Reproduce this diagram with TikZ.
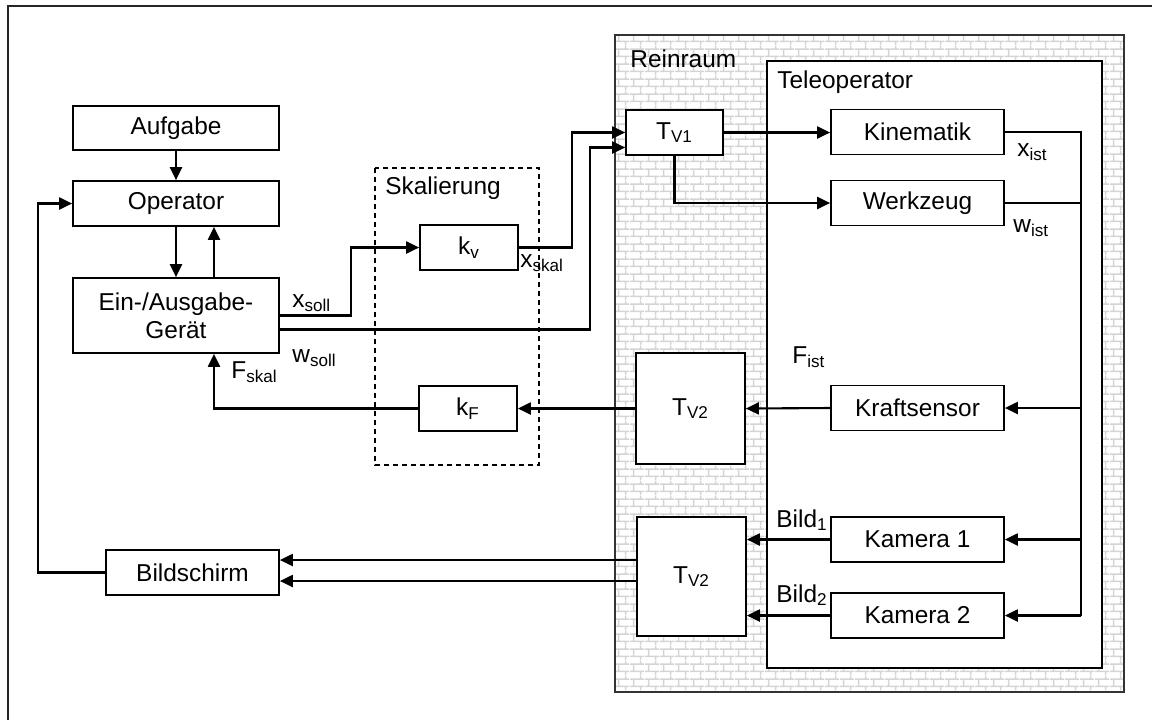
\documentclass[tikz,border=0pt]{standalone}
\usepackage{fontspec}
\setmainfont{Liberation Sans}
\usetikzlibrary{arrows.meta,patterns,positioning}
\pgfdeclarepatternformonly{brickwall}{\pgfpointorigin}{\pgfpoint{7.5pt}{7.6pt}}{\pgfpoint{7.5pt}{7.6pt}}{
  \pgfsetlinewidth{0.8pt}
  \pgfpathmoveto{\pgfpoint{0pt}{1.9pt}}\pgfpathlineto{\pgfpoint{7.5pt}{1.9pt}}
  \pgfpathmoveto{\pgfpoint{0pt}{5.7pt}}\pgfpathlineto{\pgfpoint{7.5pt}{5.7pt}}
  \pgfpathmoveto{\pgfpoint{1.875pt}{1.9pt}}\pgfpathlineto{\pgfpoint{1.875pt}{5.7pt}}
  \pgfpathmoveto{\pgfpoint{5.625pt}{5.7pt}}\pgfpathlineto{\pgfpoint{5.625pt}{7.6pt}}
  \pgfpathmoveto{\pgfpoint{5.625pt}{0pt}}\pgfpathlineto{\pgfpoint{5.625pt}{1.9pt}}
  \pgfusepath{stroke}
}
\tikzset {
  >={Triangle[length=6.5pt,width=6pt]},
  every node/.style={font=\fontsize{12.2}{14}\selectfont},
  blockbox/.style={draw,line width=0.85pt,fill=white,inner sep=0pt,
    minimum height=22.5pt,align=center},
  sig/.style={line width=1.05pt},
  txt/.style={inner sep=0pt},
}

\begin{document}
\begin{tikzpicture}[x=0.5pt,y=-0.5pt]
          \useasboundingbox (0,0) rectangle (1152,720);
          \draw[line width=1pt,black!85] (8,720) -- (8,6) -- (1152,6);
          % Reinraum, Teleoperator, Skalierung
          \draw[line width=0.8pt,draw=black!80,pattern=brickwall,pattern color=black!17]
            (615,35) rectangle (1124,692);
          \draw[line width=0.85pt,fill=white] (767,61) rectangle (1102,668);
          \draw[line width=0.6pt,dash pattern=on 2.5pt off 2pt] (375,168) rectangle (539,465);
          \node[txt,anchor=base west] (reinraum) at (630,67) {Reinraum};
          \node[txt,anchor=base west] (teleoperator) at (777,88) {Teleoperator};
          \node[txt,anchor=base west] (skalierung) at (385,194) {Skalierung};
          % blocks
          \node[blockbox,minimum width=103pt,minimum height=22pt] (aufgabe) at (176,128) {Aufgabe};
          \node[blockbox,minimum width=103pt] (operator) at (176,203.5) {Operator};
          \node[blockbox,minimum width=103pt,minimum height=37.5pt] (geraet) at (176,315.5) {Ein-/Ausgabe-\\Gerät};
          \node[blockbox,minimum width=86.5pt] (bildschirm) at (192.5,572.5) {Bildschirm};
          \node[blockbox,minimum width=49pt] (kv) at (469,247.5) {k\textsubscript{v}};
          \node[blockbox,minimum width=49pt] (kf) at (468,408.5) {k\textsubscript{F}};
          \node[blockbox,minimum width=48.5pt] (tvone) at (674.5,132.5) {T\textsubscript{V1}};
          \node[blockbox,minimum width=54.5pt,minimum height=55.5pt] (tvtwoa) at (690.5,408.5) {T\textsubscript{V2}};
          \node[blockbox,minimum width=54.5pt,minimum height=59.5pt] (tvtwob) at (691.5,576.5) {T\textsubscript{V2}};
          \node[blockbox,minimum width=86.5pt] (kinematik) at (917.5,132) {Kinematik};
          \node[blockbox,minimum width=86.5pt] (werkzeug) at (917.5,203) {Werkzeug};
          \node[blockbox,minimum width=86.5pt] (kraftsensor) at (917.5,408) {Kraftsensor};
          \node[blockbox,minimum width=86.5pt] (kameraone) at (917.5,539.5) {Kamera 1};
          \node[blockbox,minimum width=86.5pt] (kameratwo) at (917.5,615.5) {Kamera 2};
          \coordinate (bus) at (1081,615.5);
          % signals
          \draw[sig,->] (aufgabe) -- (operator);
          \draw[sig,->] (operator) -- (geraet);
          \draw[sig,->] ([xshift=19pt]geraet.north) -- ([xshift=19pt]operator.south);
          \draw[sig,->] (geraet.east) -- ++(71,0) |- (kv.west);
          \draw[sig,->] ([yshift=-7pt]geraet.east) -- ++(310,0) |- ([yshift=-7.5pt]tvone.west);
          \draw[sig,->] (kv.east) -- ++(53,0) |- (tvone.west);
          \draw[sig,->] (tvone.east) -- (tvone.east -| kinematik.west);
          \draw[sig,->] (tvone.south) |- (werkzeug.west);
          \draw[sig] (kinematik.east) -| (bus);
          \draw[sig] (werkzeug.east) -- (werkzeug.east -| bus);
          \draw[sig,->] (kraftsensor.east -| bus) -- (kraftsensor.east);
          \draw[sig,->] (kameraone.east -| bus) -- (kameraone.east);
          \draw[sig,->] (bus) -- (kameratwo.east);
          \draw[sig,->] (kraftsensor.west) -- (tvtwoa.east);
          \draw[sig,->] (tvtwoa.west) -- (tvtwoa.west -| kf.east);
          \draw[sig,->] (kf.west) -| ([xshift=19pt]geraet.south);
          \draw[sig,->] (kameraone.west) -- (kameraone.west -| tvtwob.east);
          \draw[sig,->] (kameratwo.west) -- (kameratwo.west -| tvtwob.east);
          \draw[sig,->] ([yshift=8.25pt]tvtwob.west) -- ([yshift=8.25pt]tvtwob.west -| bildschirm.east);
          \draw[sig,->] ([yshift=-2.25pt]tvtwob.west) -- ([yshift=-2.25pt]tvtwob.west -| bildschirm.east);
          \draw[sig,->] (bildschirm.west) -- ++(-67,0) |- (operator.west);
          % signal names
          \node[txt,anchor=base west] (xsoll) at (292,307) {x\textsubscript{soll}};
          \node[txt,anchor=base west] (wsoll) at (292,362) {w\textsubscript{soll}};
          \node[txt,anchor=base west] (fskal) at (231,378) {F\textsubscript{skal}};
          \node[txt,anchor=base west] (xskal) at (520,267) {x\textsubscript{skal}};
          \node[txt,anchor=base west] (xist) at (1017,156) {x\textsubscript{ist}};
          \node[txt,anchor=base west] (wist) at (1013,232) {w\textsubscript{ist}};
          \node[txt,anchor=base west] (fist) at (792,363) {F\textsubscript{ist}};
          \node[txt,anchor=base west] (bildone) at (776,527) {Bild\textsubscript{1}};
          \node[txt,anchor=base west] (bildtwo) at (776,602) {Bild\textsubscript{2}};
        \end{tikzpicture}
\end{document}
